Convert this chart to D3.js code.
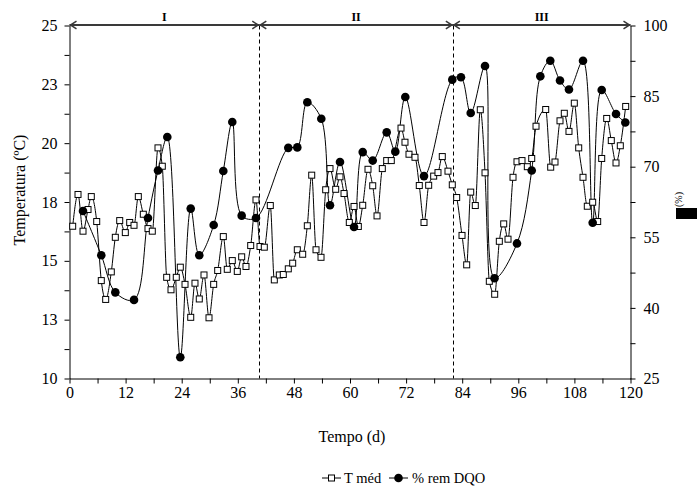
<!DOCTYPE html>
<html>
<head>
<meta charset="utf-8">
<script src="https://cdn.jsdelivr.net/npm/d3@7"></script>
<style>
  html, body { margin: 0; padding: 0; background: #fff; }
  svg { display: block; }
  text { font-family: "Liberation Serif", "Times New Roman", serif; fill: #000; }
</style>
</head>
<body>
<svg id="chart" width="699" height="488"></svg>
<script>
// ---------------- DATA ----------------
const tempDays = [0.68,1.82,2.89,3.96,4.66,5.82,6.80,7.74,8.94,9.80,10.74,11.94,12.88,13.80,14.72,15.79,16.79,17.71,18.93,19.85,20.79,21.71,22.84,23.70,24.71,25.93,26.84,27.76,28.77,29.84,30.84,31.70,32.90,33.75,34.82,35.89,36.83,37.75,38.76,39.89,40.75,41.67,42.95,43.81,44.88,45.73,46.80,47.74,48.73,49.88,50.87,51.81,52.73,53.80,54.80,55.72,56.94,57.86,58.72,59.85,60.86,61.78,62.72,63.85,64.86,65.78,66.91,67.85,68.83,70.91,71.76,72.62,73.90,74.82,75.83,76.83,77.90,78.82,79.74,80.96,81.88,82.82,83.96,84.96,85.82,86.80,87.87,88.88,89.80,90.95,91.94,92.88,93.80,94.87,95.72,96.79,97.93,98.87,99.79,101.86,102.93,103.85,104.92,105.84,106.84,107.98,108.92,109.84,110.76,111.91,112.98,113.84,114.91,115.89,116.90,117.82,118.97];
const tempValues = [16.47,17.82,16.26,17.18,17.73,16.67,14.16,13.36,14.53,16.0,16.71,16.2,16.63,16.51,17.73,16.98,16.37,16.26,19.8,19.02,14.3,13.77,14.3,14.73,14.0,12.6,14.05,13.38,14.4,12.58,14.0,14.59,16.03,14.64,15.01,14.55,15.17,14.76,15.65,17.59,15.61,15.58,17.35,14.19,14.4,14.42,14.66,14.9,15.47,15.28,16.49,18.64,15.47,15.15,18.02,18.92,18.04,18.57,17.86,16.63,17.31,16.46,17.36,18.89,18.19,16.91,18.92,19.26,19.26,20.64,20.04,19.53,19.4,18.2,16.63,18.21,18.6,18.75,19.43,18.81,18.23,17.69,16.08,14.83,17.92,17.35,21.42,18.74,14.13,13.58,15.83,16.57,15.92,18.55,19.21,19.26,19.0,19.35,20.72,21.43,18.98,19.2,20.95,21.27,20.5,21.7,19.8,18.55,17.32,17.49,16.67,19.35,21.05,20.11,19.16,19.89,21.56];

const dqoDays = [2.89,6.80,9.80,13.80,16.79,18.93,20.92,23.70,25.93,27.76,30.84,32.90,34.82,36.83,39.89,46.80,48.73,50.87,53.86,55.72,57.86,60.86,62.72,64.86,67.85,69.69,71.83,75.83,81.88,83.74,85.82,88.88,90.91,95.72,98.87,100.71,102.84,104.92,106.84,109.84,111.91,113.84,116.90,118.89];
const dqoValues = [60.6,51.2,43.3,41.7,59.1,69.2,76.3,29.5,61.1,51.2,57.6,69.1,79.5,59.6,59.1,74.0,74.1,83.7,80.2,61.8,71.0,57.2,73.1,71.3,77.3,73.2,84.8,68.0,88.5,89.0,81.4,91.4,46.3,53.7,69.2,89.2,92.5,88.3,86.4,92.5,58.1,86.3,81.2,79.4];

const xTickValues = [0,6,12,18,24,30,36,42,48,54,60,66,72,78,84,90,96,102,108,114,120];
const xTickLabels = ["0","","12","","24","","36","","48","","60","","72","","84","","96","","108","","120"];
const leftTickValues = [10,11.25,12.5,13.75,15,16.25,17.5,18.75,20,21.25,22.5,23.75,25];
const leftTickLabels = ["10","","13","","15","","18","","20","","23","","25"];
const rightTickValues = [25,32.5,40,47.5,55,62.5,70,77.5,85,92.5,100];
const rightTickLabels = ["25","","40","","55","","70","","85","","100"];

const phaseNames = ["I","II","III"];
const phaseBounds = [0,40.6,82,120];

const seriesNames = ["T méd","% rem DQO"];
const xTitle = "Tempo (d)";
const yLeftTitle = "Temperatura (ºC)";
const yRightTitle = "(%)";

// ---------------- CHART ----------------
const svg = d3.select("#chart");
const pL = 69.5, pR = 630.5, pT = 25.5, pB = 378.5;

const x = d3.scaleLinear().domain([0,120]).range([pL,pR]);
const yL = d3.scaleLinear().domain([10,25]).range([pB,pT]);
const yR = d3.scaleLinear().domain([25,100]).range([pB,pT]);

const fontSize = 16;

// axes
const gx = svg.append("g").attr("transform",`translate(0,${pB})`)
  .call(d3.axisBottom(x).tickValues(xTickValues)
    .tickFormat((d,i)=>xTickLabels[i]).tickSize(5).tickSizeOuter(0).tickPadding(3));
const gl = svg.append("g").attr("transform",`translate(${pL},0)`)
  .call(d3.axisLeft(yL).tickValues(leftTickValues)
    .tickFormat((d,i)=>leftTickLabels[i]).tickSize(5).tickSizeOuter(0).tickPadding(7));
const gr = svg.append("g").attr("transform",`translate(${pR},0)`)
  .call(d3.axisRight(yR).tickValues(rightTickValues)
    .tickFormat((d,i)=>rightTickLabels[i]).tickSize(5).tickSizeOuter(0).tickPadding(8));
[gx,gl,gr].forEach(g=>{
  g.selectAll("text").attr("font-size",fontSize).attr("font-family",'"Liberation Serif", serif').attr("fill","#000");
  g.selectAll("path,line").attr("stroke","#000").attr("stroke-width",1);
});

// dashed phase separators
svg.append("g").selectAll("line").data(phaseBounds.slice(1,-1)).join("line")
  .attr("x1",d=>Math.round(x(d))+0.5).attr("x2",d=>Math.round(x(d))+0.5)
  .attr("y1",pT).attr("y2",pB)
  .attr("stroke","#000").attr("stroke-width",1).attr("stroke-dasharray","4,3");

// phase arrows
const arrG = svg.append("g");
const ay = 25;
phaseNames.forEach((name,i)=>{
  const a = x(phaseBounds[i]), b = x(phaseBounds[i+1]);
  arrG.append("line").attr("x1",a).attr("x2",b).attr("y1",ay).attr("y2",ay)
    .attr("stroke","#3a3a3a").attr("stroke-width",1.8);
  arrG.append("path").attr("d",`M${a+7},${ay-3.8}L${a+1},${ay}L${a+7},${ay+3.8}`)
    .attr("fill","none").attr("stroke","#3a3a3a").attr("stroke-width",1.5);
  arrG.append("path").attr("d",`M${b-7},${ay-3.8}L${b-1},${ay}L${b-7},${ay+3.8}`)
    .attr("fill","none").attr("stroke","#3a3a3a").attr("stroke-width",1.5);
  arrG.append("text").attr("x",(a+b)/2).attr("y",21).attr("text-anchor","middle")
    .attr("font-size",12).attr("font-weight","bold").text(name);
});

// lines
const tempData = tempDays.map((d,i)=>[d,tempValues[i]]);
const dqoData = dqoDays.map((d,i)=>[d,dqoValues[i]]);

svg.append("path").datum(tempData)
  .attr("d",d3.line().x(d=>x(d[0])).y(d=>yL(d[1])).curve(d3.curveMonotoneX))
  .attr("fill","none").attr("stroke","#000").attr("stroke-width",1);
svg.append("path").datum(dqoData)
  .attr("d",d3.line().x(d=>x(d[0])).y(d=>yR(d[1])).curve(d3.curveCatmullRom.alpha(0.5)))
  .attr("fill","none").attr("stroke","#000").attr("stroke-width",1);

const sq = 6;
svg.append("g").selectAll("rect").data(tempData).join("rect")
  .attr("x",d=>x(d[0])-sq/2).attr("y",d=>yL(d[1])-sq/2)
  .attr("width",sq).attr("height",sq)
  .attr("fill","#fff").attr("stroke","#000").attr("stroke-width",1);
svg.append("g").selectAll("circle").data(dqoData).join("circle")
  .attr("cx",d=>x(d[0])).attr("cy",d=>yR(d[1])).attr("r",4.3)
  .attr("fill","#000");

// titles
svg.append("text").attr("x",(pL+pR)/2+2).attr("y",442).attr("text-anchor","middle")
  .attr("font-size",fontSize).text(xTitle);
svg.append("text").attr("transform","translate(25,190) rotate(-90)").attr("text-anchor","middle")
  .attr("font-size",fontSize).text(yLeftTitle);
svg.append("text").attr("transform","translate(682,199.5) rotate(-90)").attr("text-anchor","middle")
  .attr("font-size",10).text(yRightTitle);
svg.append("rect").attr("x",676).attr("y",208).attr("width",21).attr("height",11).attr("fill","#000");

// legend
const lg = svg.append("g");
const ly = 478;
lg.append("line").attr("x1",322).attr("x2",341).attr("y1",ly).attr("y2",ly).attr("stroke","#000");
lg.append("rect").attr("x",331.5-sq/2).attr("y",ly-sq/2).attr("width",sq).attr("height",sq)
  .attr("fill","#fff").attr("stroke","#000");
lg.append("text").attr("x",344).attr("y",ly+5).attr("font-size",14.5).text(seriesNames[0]);
lg.append("line").attr("x1",389).attr("x2",408).attr("y1",ly).attr("y2",ly).attr("stroke","#000");
lg.append("circle").attr("cx",398.5).attr("cy",ly).attr("r",4.3).attr("fill","#000");
lg.append("text").attr("x",412).attr("y",ly+5).attr("font-size",14.5).text(seriesNames[1]);
</script>
</body>
</html>
